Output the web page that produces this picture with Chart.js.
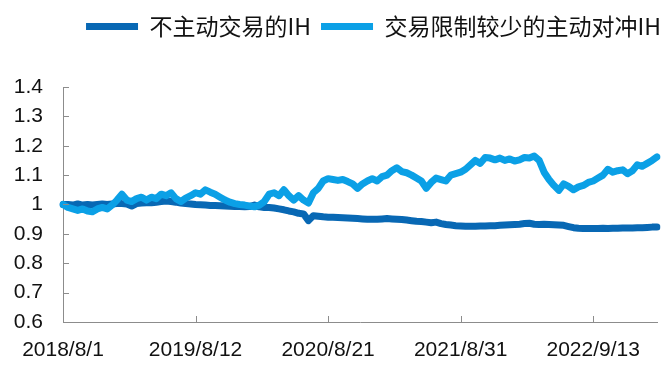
<!DOCTYPE html>
<html>
<head>
<meta charset="utf-8">
<script src="https://cdn.jsdelivr.net/npm/chart.js@4"></script>
<style>
  html, body { margin: 0; padding: 0; background: #fff; }
  #wrap { width: 666px; height: 366px; }
</style>
</head>
<body>
<div id="wrap"><canvas id="ihChart" width="666" height="366"></canvas></div>
<script>
// ── Data (one sample every ~5 px) ───────────────────────────────────────────
const tickLabels = ['2018/8/1', '2019/8/12', '2020/8/21', '2021/8/31', '2022/9/13'];
const tickIdx    = [0, 27, 54, 81, 108];

const passiveIH = [
  1.000, 1.000, 0.998, 1.002, 0.998, 1.000, 0.998, 1.000, 1.002, 1.000,
  1.002, 1.003, 1.003, 1.002, 0.995, 1.003, 1.005, 1.006, 1.006, 1.008,
  1.010, 1.012, 1.010, 1.008, 1.005, 1.003, 1.002, 1.000, 0.999, 0.998,
  0.997, 0.997, 0.996, 0.995, 0.994, 0.993, 0.993, 0.992, 0.993, 0.998,
  0.992, 0.990, 0.990, 0.988, 0.985, 0.982, 0.978, 0.975, 0.970, 0.968,
  0.945, 0.962, 0.960, 0.958, 0.957, 0.957, 0.956, 0.955, 0.954, 0.953,
  0.952, 0.951, 0.950, 0.950, 0.950, 0.951, 0.952, 0.951, 0.950, 0.949,
  0.947, 0.945, 0.943, 0.942, 0.940, 0.938, 0.940, 0.935, 0.932, 0.930,
  0.928, 0.927, 0.926, 0.926, 0.926, 0.927, 0.927, 0.928, 0.928, 0.929,
  0.930, 0.931, 0.932, 0.933, 0.935, 0.936, 0.933, 0.932, 0.933, 0.932,
  0.931, 0.930, 0.929, 0.925, 0.921, 0.919, 0.918, 0.918, 0.918, 0.918,
  0.919, 0.918, 0.919, 0.919, 0.920, 0.920, 0.920, 0.921, 0.921, 0.922,
  0.923, 0.923
];

const activeHedgeIH = [
  1.000, 0.990, 0.985, 0.980, 0.985, 0.978, 0.975, 0.985, 0.990, 0.985,
  0.998, 1.015, 1.035, 1.015, 1.010, 1.020, 1.025, 1.015, 1.025, 1.020,
  1.035, 1.030, 1.040, 1.020, 1.010, 1.022, 1.030, 1.040, 1.035, 1.050,
  1.042, 1.035, 1.025, 1.015, 1.008, 1.003, 1.000, 0.998, 0.995, 0.992,
  0.998, 1.010, 1.035, 1.040, 1.030, 1.050, 1.030, 1.015, 1.030, 1.015,
  1.005, 1.040, 1.055, 1.080, 1.088, 1.085, 1.082, 1.085, 1.078, 1.070,
  1.055, 1.070, 1.080, 1.088, 1.080, 1.095, 1.100, 1.115, 1.125, 1.112,
  1.108, 1.100, 1.090, 1.080, 1.055, 1.075, 1.090, 1.085, 1.080, 1.100,
  1.105, 1.110, 1.120, 1.135, 1.150, 1.140, 1.160, 1.158, 1.152, 1.158,
  1.150, 1.155, 1.148, 1.152, 1.160, 1.158, 1.165, 1.150, 1.110, 1.085,
  1.065, 1.048, 1.070, 1.062, 1.050, 1.060, 1.065, 1.075, 1.080, 1.090,
  1.100, 1.120, 1.110, 1.115, 1.118, 1.105, 1.115, 1.135, 1.130, 1.140,
  1.150, 1.162
];

// category labels: date text only where the reference prints one
const labels = passiveIH.map((_, i) => {
  const k = tickIdx.indexOf(i);
  return k >= 0 ? tickLabels[k] : '';
});

const AXIS_GREY = '#8c8c8c';

// ── Inside tick marks (y ticks point right, x ticks point up) ───────────────
const innerTicks = {
  id: 'innerTicks',
  afterDraw(chart) {
    const { ctx, chartArea, scales: { x, y } } = chart;
    ctx.save();
    ctx.strokeStyle = AXIS_GREY;
    ctx.lineWidth = 1;
    ctx.beginPath();
    y.ticks.forEach(t => {
      const py = Math.round(y.getPixelForValue(t.value)) + 0.5;
      ctx.moveTo(chartArea.left, py);
      ctx.lineTo(chartArea.left + 6, py);
    });
    tickIdx.forEach(i => {
      const px = Math.round(x.getPixelForValue(i)) + 0.5;
      ctx.moveTo(px, chartArea.bottom);
      ctx.lineTo(px, chartArea.bottom - 6);
    });
    ctx.stroke();
    ctx.restore();
  }
};

// ── Legend placement: extra room below it, row nudged to the right ──────────
const legendGap = {
  id: 'legendGap',
  beforeInit(chart) {
    const fit = chart.legend.fit;
    chart.legend.fit = function () {
      fit.call(this);
      this.height += 39;
    };
  },
  afterLayout(chart) {
    chart.legend.right += 14;
  }
};

const ctx = document.getElementById('ihChart').getContext('2d');
const ihChart = new Chart(ctx, {
  type: 'line',
  data: {
    labels: labels,
    datasets: [{
      label: '不主动交易的IH',
      data: passiveIH,
      borderColor: '#0868b4',
      backgroundColor: '#0868b4',
      borderWidth: 7,
      borderCapStyle: 'round',
      borderJoinStyle: 'round',
      pointRadius: 0,
      tension: 0,
      order: 1
    }, {
      label: '交易限制较少的主动对冲IH',
      data: activeHedgeIH,
      borderColor: '#0ba0e6',
      backgroundColor: '#0ba0e6',
      borderWidth: 7,
      borderCapStyle: 'round',
      borderJoinStyle: 'round',
      pointRadius: 0,
      tension: 0,
      order: 0
    }]
  },
  options: {
    responsive: false,
    animation: false,
    layout: { padding: { left: 0, right: 9, top: 5, bottom: 0 } },
    scales: {
      x: {
        afterFit: s => { s.height = 44; },
        grid: { display: false, drawTicks: false },
        border: { display: true, color: AXIS_GREY, width: 1 },
        ticks: {
          autoSkip: false,
          maxRotation: 0,
          padding: 16,
          color: '#111',
          font: { family: 'Liberation Sans', size: 21 },
          callback: (v, i) => labels[i] === '' ? null : labels[i]
        }
      },
      y: {
        min: 0.6,
        max: 1.4,
        afterFit: s => { s.width = 63; },
        grid: { display: false, drawTicks: false },
        border: { display: true, color: AXIS_GREY, width: 1 },
        ticks: {
          stepSize: 0.1,
          padding: 20,
          color: '#111',
          font: { family: 'Liberation Sans', size: 21 },
          callback: v => String(Number(v.toFixed(1)))
        }
      }
    },
    plugins: {
      tooltip: { enabled: false },
      legend: {
        position: 'top',
        align: 'end',
        labels: {
          usePointStyle: true,
          pointStyle: 'line',
          pointStyleWidth: 52,
          padding: 10,
          color: '#111',
          font: { family: 'Noto Sans CJK SC', size: 23 },
          sort: (a, b) => a.datasetIndex - b.datasetIndex
        }
      }
    }
  },
  plugins: [innerTicks, legendGap]
});
</script>
</body>
</html>
